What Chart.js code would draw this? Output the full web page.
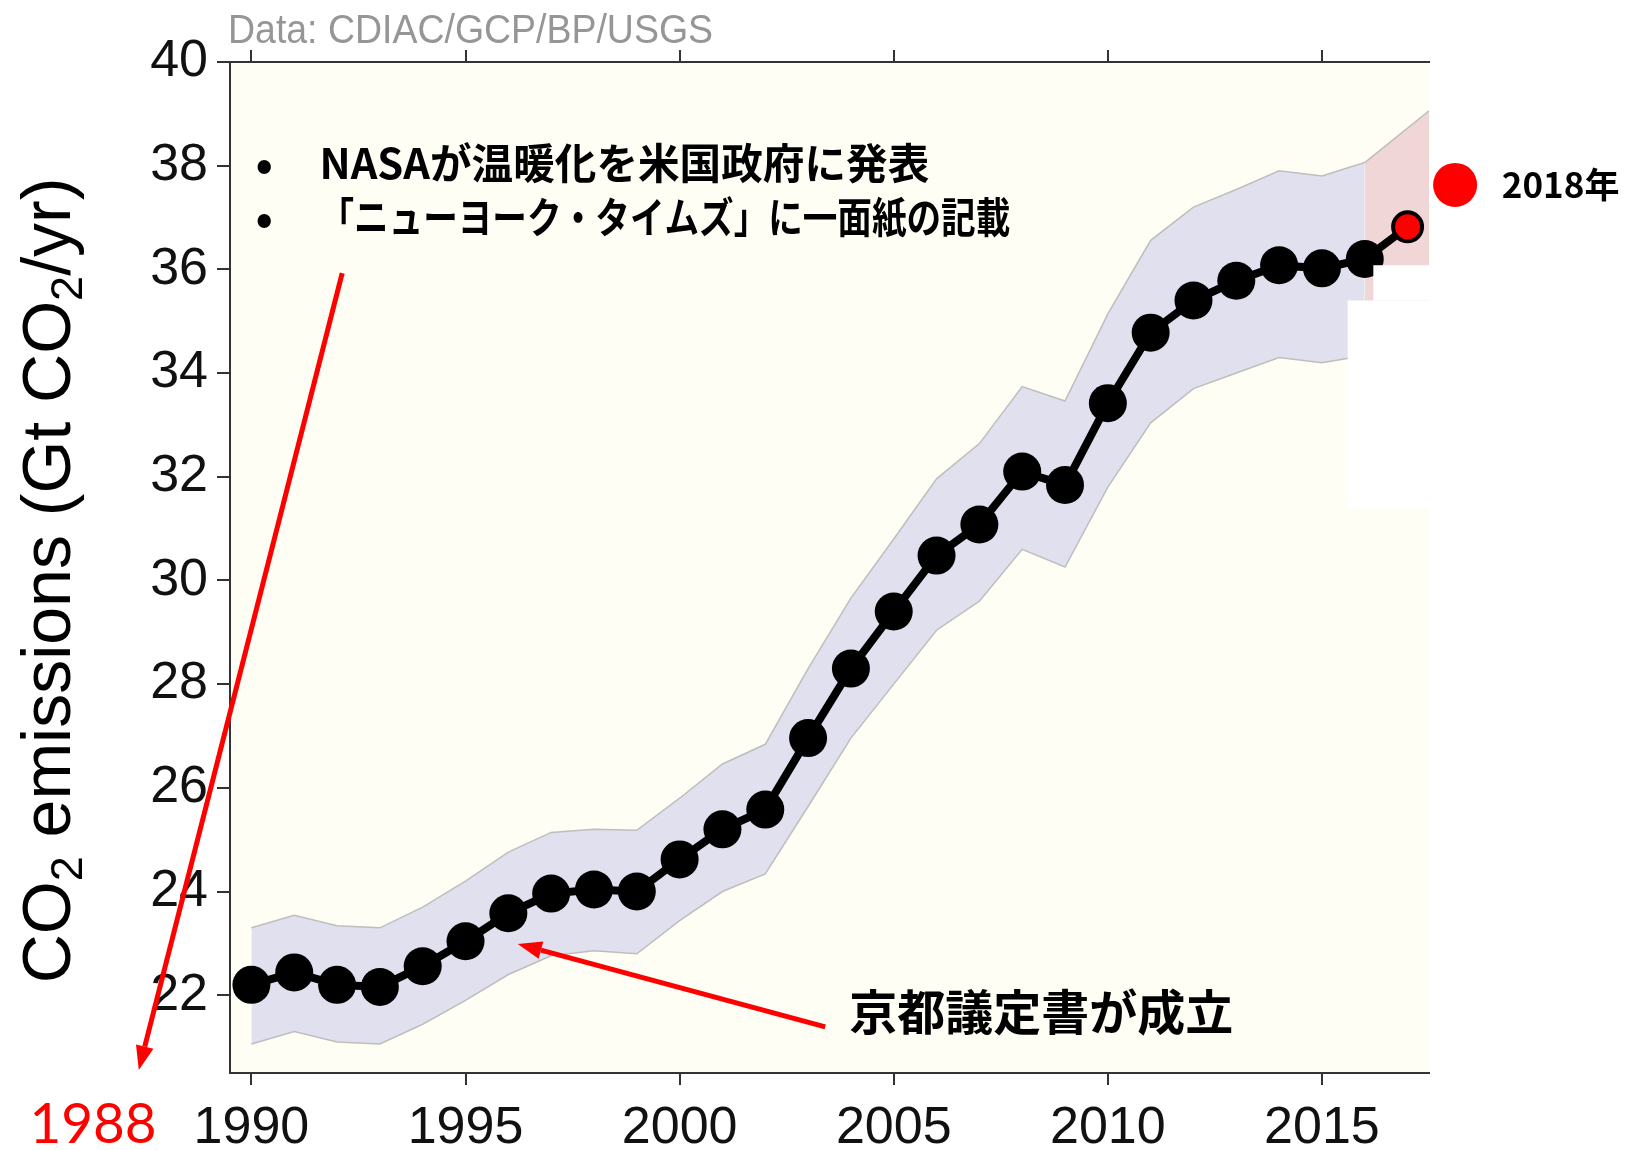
<!DOCTYPE html>
<html>
<head>
<meta charset="utf-8">
<script src="https://cdn.jsdelivr.net/npm/chart.js@4.4.1/dist/chart.umd.min.js"></script>
<style>
  html, body { margin: 0; padding: 0; background: #fff; }
  #wrap { width: 1626px; height: 1150px; }
</style>
</head>
<body>
<div id="wrap"><canvas id="co2Chart" width="1626" height="1150"></canvas></div>
<script>
// CO2 emissions (Gt CO2/yr)
const years = [1990, 1991, 1992, 1993, 1994, 1995, 1996, 1997, 1998, 1999, 2000, 2001, 2002, 2003,
  2004, 2005, 2006, 2007, 2008, 2009, 2010, 2011, 2012, 2013, 2014, 2015, 2016, 2017];
const emissions = [22.2, 22.44, 22.2, 22.16, 22.56, 23.04, 23.58, 23.96, 24.04, 24.0, 24.62, 25.2, 25.58, 26.96,
  28.3, 29.4, 30.48, 31.08, 32.1, 31.84, 33.42, 34.78, 35.4, 35.78, 36.08, 36.02, 36.2, 36.82];

// uncertainty band
const bandYears = years.slice(0, 27);
const bandUpper = [23.3, 23.54, 23.34, 23.3, 23.7, 24.2, 24.76, 25.14, 25.2, 25.18, 25.8, 26.46, 26.84, 28.3,
  29.66, 30.8, 31.96, 32.64, 33.74, 33.46, 35.14, 36.56, 37.2, 37.54, 37.9, 37.8, 38.06];
const bandLower = [21.06, 21.3, 21.1, 21.06, 21.44, 21.9, 22.4, 22.76, 22.86, 22.8, 23.44, 24.0, 24.34, 25.64,
  26.96, 28.0, 29.04, 29.6, 30.6, 30.26, 31.8, 33.04, 33.7, 34.0, 34.3, 34.2, 34.34];

// projection band (runs to the right edge of the plot)
const projYears = [2016, 2017.5];
const projUpper = [38.06, 39.06];
const projLower = [34.34, 34.7];

const xTicks = [1990, 1995, 2000, 2005, 2010, 2015];
const yTicks = [22, 24, 26, 28, 30, 32, 34, 36, 38, 40];

const C = {
  line: '#000',
  red: '#ff0000',
  axis: '#333',
  plotBg: '#fefef4',
  band: 'rgb(224,224,238)',
  bandEdge: 'rgb(190,190,190)',
  proj: 'rgb(240,214,214)',
  source: 'rgb(150,150,150)',
};
const TICK_FONT = { family: "'Liberation Sans', Arial, sans-serif", size: 52 };
const JP = "'Noto Sans CJK JP', sans-serif";

const pts = (xs, ys) => xs.map((x, i) => ({ x, y: ys[i] }));
const last = years.length - 1;

const plotBackground = {
  id: 'plotBackground',
  beforeDraw(chart) {
    const { ctx, chartArea: a } = chart;
    ctx.save();
    ctx.fillStyle = C.plotBg;
    ctx.fillRect(a.left, a.top, a.right - a.left, a.bottom - a.top);
    ctx.restore();
  },
};

function arrow(ctx, x1, y1, x2, y2) {
  const ang = Math.atan2(y2 - y1, x2 - x1);
  const hl = 24, hw = 18;
  const bx = x2 - hl * Math.cos(ang), by = y2 - hl * Math.sin(ang);
  ctx.beginPath();
  ctx.moveTo(x1, y1);
  ctx.lineTo(bx, by);
  ctx.stroke();
  ctx.beginPath();
  ctx.moveTo(x2, y2);
  ctx.lineTo(bx + hw / 2 * Math.sin(ang), by - hw / 2 * Math.cos(ang));
  ctx.lineTo(bx - hw / 2 * Math.sin(ang), by + hw / 2 * Math.cos(ang));
  ctx.closePath();
  ctx.fill();
}

const annotations = {
  id: 'annotations',
  afterDatasetsDraw(chart) {
    const { ctx, chartArea: a } = chart;
    const X = v => chart.scales.x.getPixelForValue(v);
    const Y = v => chart.scales.y.getPixelForValue(v);
    ctx.save();

    // white patch covering the right part of the band
    ctx.fillStyle = '#fff';
    ctx.fillRect(X(2015.6), Y(35.4), a.right - X(2015.6), Y(31.4) - Y(35.4));
    ctx.fillRect(X(2016.2), Y(36.08), a.right - X(2016.2), Y(35.4) - Y(36.08));

    // source
    ctx.fillStyle = C.source;
    ctx.font = "41px 'Liberation Sans', Arial, sans-serif";
    ctx.textBaseline = 'middle';
    ctx.textAlign = 'left';
    ctx.fillText('Data: CDIAC/GCP/BP/USGS', a.left - 2, a.top - 30, 485);

    // bullet notes
    ctx.fillStyle = '#000';
    ctx.font = 'bold 46px ' + JP;
    ctx.textAlign = 'center';
    ctx.fillText('•', X(1990.3), Y(38.05));
    ctx.fillText('•', X(1990.3), Y(37.0));
    ctx.font = 'bold 42px ' + JP;
    ctx.textAlign = 'left';
    ctx.fillText('NASAが温暖化を米国政府に発表', X(1991.59), Y(38.05), X(2005.83) - X(1991.59));
    ctx.fillText('「ニューヨーク・タイムズ」に一面紙の記載', X(1991.59), Y(37.0), X(2007.72) - X(1991.59));

    ctx.font = 'bold 48px ' + JP;
    ctx.fillText('京都議定書が成立', X(2003.96), Y(21.68), X(2013.03) - X(2003.96));

    // 2018 marker
    ctx.fillStyle = C.red;
    ctx.beginPath();
    ctx.arc(X(2018.11), Y(37.63), 22, 0, Math.PI * 2);
    ctx.fill();
    ctx.fillStyle = '#000';
    ctx.font = 'bold 35px ' + JP;
    ctx.fillText('2018年', X(2019.2), Y(37.63));

    // 1988
    ctx.fillStyle = C.red;
    ctx.font = "56px Lato, sans-serif";
    ctx.textAlign = 'center';
    ctx.fillText('1988', X(1986.3), Y(19.5), 127);

    // arrows
    ctx.strokeStyle = C.red;
    ctx.lineWidth = 5;
    arrow(ctx, X(1992.12), Y(35.93), X(1987.37), Y(20.56));
    arrow(ctx, X(2003.4), Y(21.39), X(1996.22), Y(22.99));

    ctx.restore();
  },
};

const yTitle = {
  id: 'yTitle',
  afterDraw(chart) {
    const { ctx, chartArea: a } = chart;
    const parts = [['CO', 0], ['2', 1], [' emissions (Gt CO', 0], ['2', 1], ['/yr)', 0]];
    const big = "68px 'Liberation Sans', Arial, sans-serif";
    const small = "45px 'Liberation Sans', Arial, sans-serif";
    ctx.save();
    ctx.translate(70, (a.top + a.bottom) / 2 + 13);
    ctx.rotate(-Math.PI / 2);
    ctx.fillStyle = '#000';
    ctx.textBaseline = 'alphabetic';
    ctx.textAlign = 'left';
    let total = 0;
    parts.forEach(([t, sub]) => { ctx.font = sub ? small : big; total += ctx.measureText(t).width; });
    let x = -total / 2;
    parts.forEach(([t, sub]) => {
      ctx.font = sub ? small : big;
      ctx.fillText(t, x, sub ? 12 : 0);
      x += ctx.measureText(t).width;
    });
    ctx.restore();
  },
};

const setTicks = list => scale => { scale.ticks = list.map(v => ({ value: v })); };

new Chart(document.getElementById('co2Chart'), {
  type: 'line',
  data: {
    datasets: [
      {
        label: 'CO2 emissions',
        data: pts(years, emissions),
        borderColor: C.line,
        borderWidth: 8,
        pointRadius: ctx => ctx.dataIndex === last ? 14.5 : 19,
        pointBackgroundColor: ctx => ctx.dataIndex === last ? C.red : C.line,
        pointBorderColor: C.line,
        pointBorderWidth: ctx => ctx.dataIndex === last ? 4 : 0,
        tension: 0,
        fill: false,
        order: 0,
      },
      {
        label: 'lower',
        data: pts(bandYears, bandLower),
        borderColor: C.bandEdge,
        borderWidth: 1.5,
        pointRadius: 0,
        fill: false,
        order: 2,
      },
      {
        label: 'upper',
        data: pts(bandYears, bandUpper),
        borderColor: C.bandEdge,
        borderWidth: 1.5,
        backgroundColor: C.band,
        pointRadius: 0,
        fill: '-1',
        order: 2,
      },
      {
        label: 'proj lower',
        data: pts(projYears, projLower),
        borderColor: 'transparent',
        borderWidth: 0,
        pointRadius: 0,
        fill: false,
        order: 1,
      },
      {
        label: 'proj upper',
        data: pts(projYears, projUpper),
        borderColor: C.bandEdge,
        borderWidth: 1.5,
        backgroundColor: C.proj,
        pointRadius: 0,
        fill: '-1',
        order: 1,
      },
    ],
  },
  options: {
    responsive: false,
    animation: false,
    devicePixelRatio: 1,
    layout: { padding: { left: 0, top: 62, right: 197, bottom: 0 } },
    plugins: { legend: { display: false }, tooltip: { enabled: false } },
    scales: {
      x: {
        type: 'linear',
        position: 'bottom',
        min: 1989.5,
        max: 2017.5,
        afterBuildTicks: setTicks(xTicks),
        afterFit: s => { s.height = 77; },
        ticks: { color: '#111', font: TICK_FONT, padding: 12, maxRotation: 0, callback: v => String(v) },
        grid: { drawOnChartArea: false, color: C.axis, lineWidth: 2, tickLength: 12 },
        border: { color: C.axis, width: 2 },
      },
      x2: {
        type: 'linear',
        position: 'top',
        min: 1989.5,
        max: 2017.5,
        afterBuildTicks: setTicks(xTicks),
        afterFit: s => { s.height = 0; },
        ticks: { display: false },
        grid: { drawOnChartArea: false, color: C.axis, lineWidth: 2, tickLength: 12 },
        border: { color: C.axis, width: 2 },
      },
      y: {
        type: 'linear',
        position: 'left',
        min: 20.5,
        max: 40,
        afterBuildTicks: setTicks(yTicks),
        afterFit: s => { s.width = 230; },
        ticks: { color: '#111', font: TICK_FONT, padding: 9, callback: v => String(v) },
        grid: { drawOnChartArea: false, color: C.axis, lineWidth: 2, tickLength: 13 },
        border: { color: C.axis, width: 2 },
      },
    },
  },
  plugins: [plotBackground, annotations, yTitle],
});
</script>
</body>
</html>
